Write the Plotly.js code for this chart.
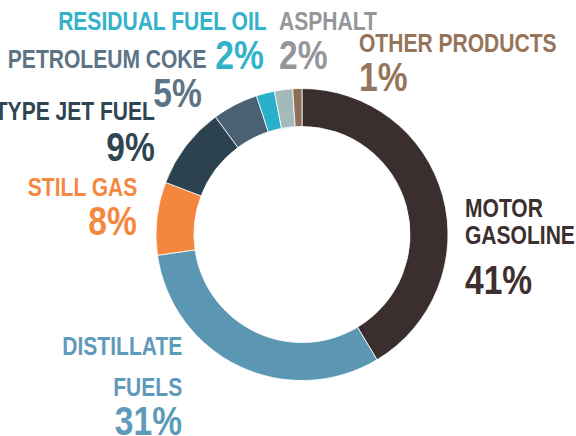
<!DOCTYPE html>
<html>
<head>
<meta charset="utf-8">
<script src="https://cdn.plot.ly/plotly-3.0.1.min.js"></script>
<style>html,body{margin:0;padding:0;background:#fff;}#chart{width:576px;height:436px;}</style>
</head>
<body>
<div id="chart"></div>
<script>
// Data
const categories = ["MOTOR GASOLINE", "DISTILLATE FUELS", "STILL GAS", "KEROSENE-TYPE JET FUEL", "PETROLEUM COKE", "RESIDUAL FUEL OIL", "ASPHALT", "OTHER PRODUCTS"];
const shares = [41, 31, 8, 9, 5, 2, 2, 1];
const sliceColors = ["#3b2e2e", "#5b96b3", "#f4873d", "#2c4250", "#4a6174", "#2bb0cb", "#a3b9ba", "#8d6e58"];
const textColors = ["#3d2f2e", "#5f9aba", "#f5883f", "#2f4652", "#5d7486", "#33b2cb", "#94969a", "#96745a"];
// label lines as shown in the picture (jet fuel label is cut at the left edge in the reference)
const labelLines = [["MOTOR", "GASOLINE"], ["DISTILLATE", "FUELS"], ["STILL GAS"], ["TYPE JET FUEL"], ["PETROLEUM COKE"], ["RESIDUAL FUEL OIL"], ["ASPHALT"], ["OTHER PRODUCTS"]];

// Layout (pixel positions for label lines and percent, anchor)
const W = 576, H = 436;
const labelPos = [
  {x: 463, ys: [207, 234], py: 279, anchor: "left"},
  {x: 184, ys: [345, 386], py: 420, anchor: "right"},
  {x: 139, ys: [186], py: 220, anchor: "right"},
  {x: 157, ys: [110], py: 146, anchor: "right"},
  {x: 209, ys: [58], py: 93, anchor: "right", px: 204},
  {x: 269, ys: [20], py: 54, anchor: "right", px: 266},
  {x: 277, ys: [20], py: 54, anchor: "left"},
  {x: 357, ys: [42], py: 76, anchor: "left"}
];

const FONT = "Liberation Sans, Arial, sans-serif";
const LABEL_SIZE = 26, PCT_SIZE = 40;
const LABEL_SQUEEZE = 0.81, PCT_SQUEEZE = 0.84; // condensed look
const annotations = [];
const squeeze = [];
categories.forEach((c, i) => {
  const p = labelPos[i];
  labelLines[i].forEach((line, j) => {
    annotations.push({
      xref: "paper", yref: "paper", showarrow: false,
      x: p.x / W, y: 1 - (p.ys[j] + 1) / H,
      xanchor: p.anchor, yanchor: "middle", align: p.anchor,
      text: line,
      font: {family: FONT, size: LABEL_SIZE, color: textColors[i], weight: "bold"}
    });
    squeeze.push({s: LABEL_SQUEEZE, anchor: p.anchor});
  });
  annotations.push({
    xref: "paper", yref: "paper", showarrow: false,
    x: (p.px !== undefined ? p.px : p.x) / W, y: 1 - (p.py + 0.5) / H,
    xanchor: p.anchor, yanchor: "middle", align: p.anchor,
    text: shares[i] + "%",
    font: {family: FONT, size: PCT_SIZE, color: textColors[i], weight: "bold"}
  });
  squeeze.push({s: PCT_SQUEEZE, anchor: p.anchor});
});

const trace = {
  type: "pie",
  labels: categories,
  values: shares,
  sort: false,
  direction: "clockwise",
  rotation: 0,
  hole: 0.74,
  textinfo: "none",
  hoverinfo: "label+percent",
  marker: {colors: sliceColors, line: {color: "#ffffff", width: 0.8}},
  domain: {x: [156 / W, 448 / W], y: [1 - 382 / H, 1 - 87 / H]},
  showlegend: false
};

const layout = {
  width: W, height: H,
  margin: {l: 0, r: 0, t: 0, b: 0},
  paper_bgcolor: "#ffffff",
  plot_bgcolor: "#ffffff",
  showlegend: false,
  annotations: annotations
};

Plotly.newPlot("chart", [trace], layout, {staticPlot: true, displayModeBar: false}).then(gd => {
  gd.querySelectorAll("g.annotation").forEach(g => {
    const idx = parseInt(g.getAttribute("data-index"), 10);
    const sq = squeeze[idx];
    const t = g.querySelector("text.annotation-text");
    if (!t || !sq) return;
    const bb = t.getBBox();
    const ax = sq.anchor === "left" ? bb.x : bb.x + bb.width;
    const prev = t.getAttribute("transform") || "";
    t.setAttribute("transform", `translate(${ax},0) scale(${sq.s},1) translate(${-ax},0) ` + prev);
  });
});
</script>
</body>
</html>
